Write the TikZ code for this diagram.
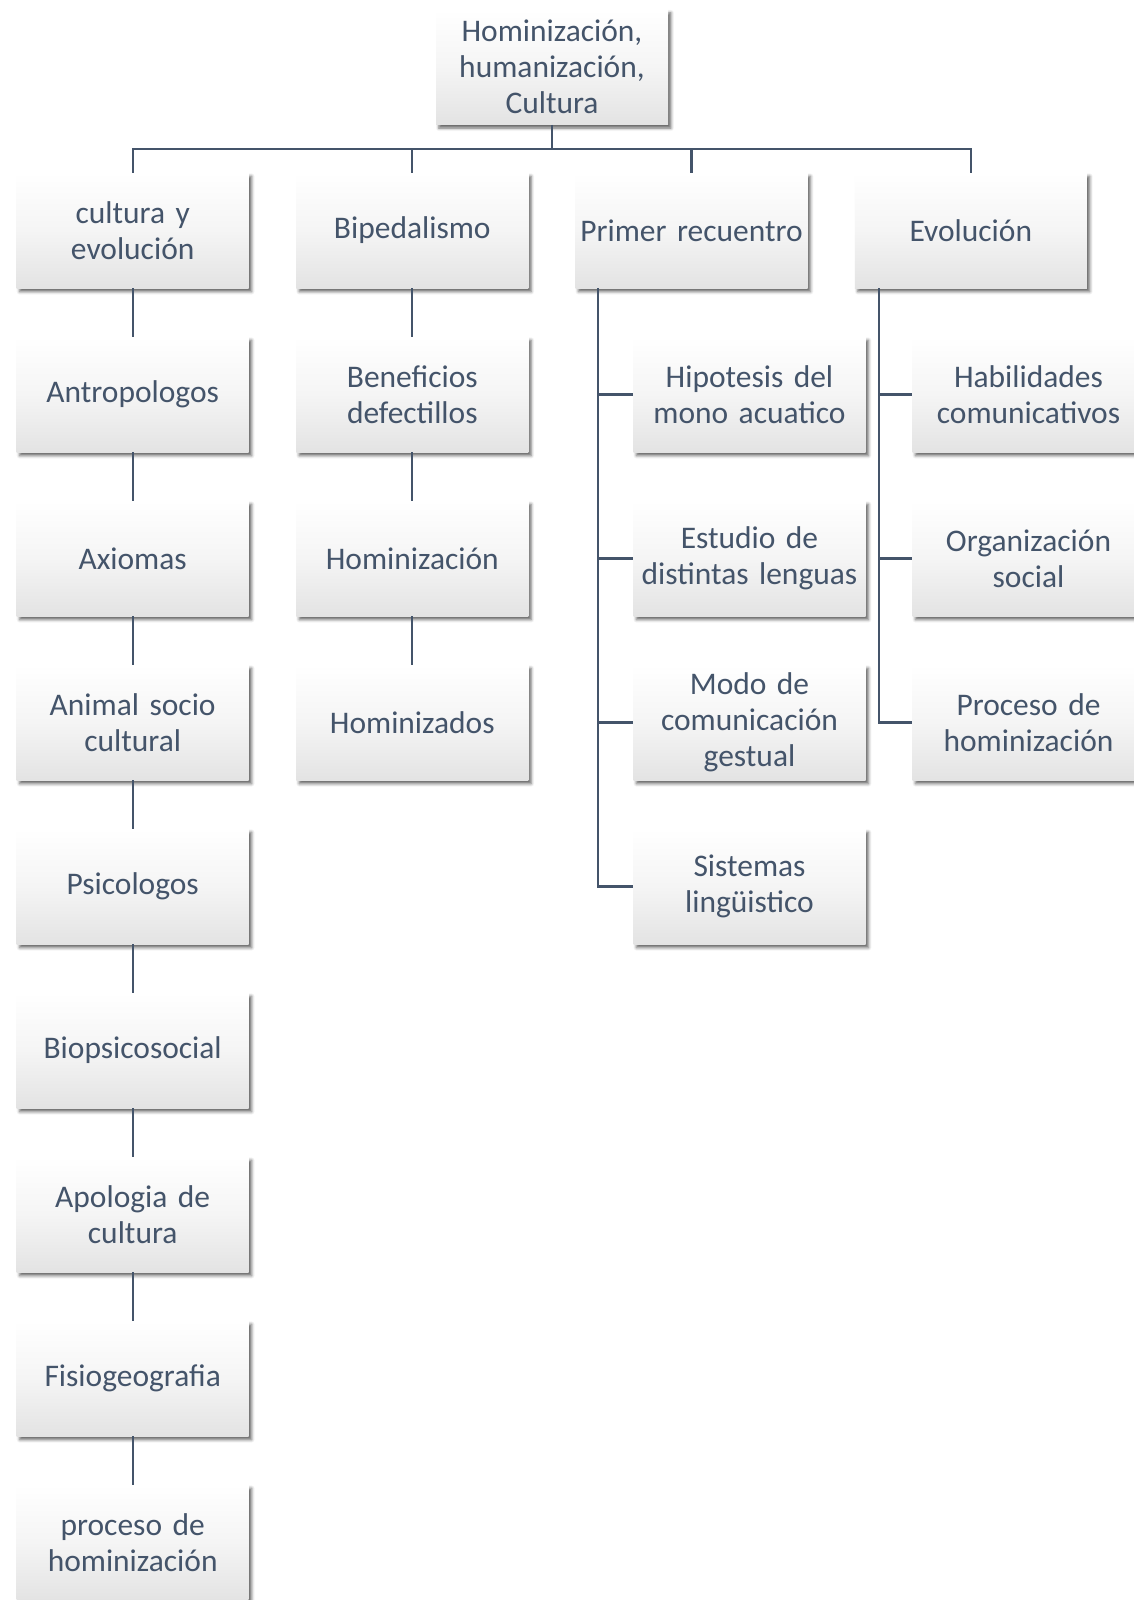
\documentclass[tikz,border=0pt]{standalone}
\usepackage{fontspec}
\setmainfont{Carlito}
\usetikzlibrary{shadows.blur}
\definecolor{slate}{HTML}{44546A}
\definecolor{boxgray}{HTML}{E3E3E3}
\tikzset{
    card/.style={rectangle, inner sep=0pt, minimum width=174pt,
        minimum height=86.5pt, text width=170pt, align=center,
        top color=white, bottom color=boxgray, middle color=white!96!black,
        text=slate, font=\fontsize{23.6}{26.8}\selectfont,
        blur shadow={shadow xshift=2.2pt, shadow yshift=-2.6pt,
            shadow blur radius=2.2pt, shadow opacity=60}},
    link/.style={draw=slate, line width=1.7pt}
}
\begin{document}
\begin{tikzpicture}[x=0.75pt, y=-0.75pt]
    \useasboundingbox (0, 0) rectangle (1134, 1600);

    % Root
    \node[card] (top) at (552, 67)
    {Hominización,\\humanización,\\Cultura};

    % First row
    \node[card] (cult) at (132.7, 230.5) {cultura y\\evolución};
    \node[card] (biped) at (412.3, 230.5) {Bipedalismo};
    \node[card] (primer) at (691.5, 230.5) {Primer recuentro};
    \node[card] (evol) at (970.8, 230.5) {Evolución};

    \coordinate (bus) at (552, 149);
    \draw[link] (top.south) -- (bus);
    \foreach \n in {cult, biped, primer, evol} {
        \draw[link] (bus) -| (\n.north);
    }

    % Left column
    \foreach \t [count=\i] in {Antropologos, Axiomas,
        {Animal socio\\cultural}, Psicologos, Biopsicosocial,
        {Apologia de\\cultura}, Fisiogeografia,
        {proceso de\\hominización}} {
        \node[card] (a\i) at (132.7, 230.5 + 164*\i) {\t};
    }
    \draw[link] (cult.south) -- (a1.north);
    \foreach \i [evaluate=\i as \j using int(\i+1)] in {1, ..., 7} {
        \draw[link] (a\i.south) -- (a\j.north);
    }

    % Second column
    \foreach \t [count=\i] in {{Beneficios\\defectillos},
        Hominización, Hominizados} {
        \node[card] (b\i) at (412.3, 230.5 + 164*\i) {\t};
    }
    \draw[link] (biped.south) -- (b1.north);
    \draw[link] (b1.south) -- (b2.north);
    \draw[link] (b2.south) -- (b3.north);

    % Third column
    \foreach \t [count=\i] in {{Hipotesis del\\mono acuatico},
        {Estudio de\\distintas lenguas},
        {Modo de\\comunicación\\gestual},
        {Sistemas\\lingüistico}} {
        \node[card] (p\i) at (749.5, 230.5 + 164*\i) {\t};
    }
    \coordinate (ptrunk) at ([xshift=17.3pt]primer.south west);
    \draw[link] (ptrunk) |- (p4.west);
    \foreach \i in {1, 2, 3} {
        \draw[link] (ptrunk) |- (p\i.west);
    }

    % Fourth column
    \foreach \t [count=\i] in {{Habilidades\\comunicativos},
        {Organización\\social},
        {Proceso de\\hominización}} {
        \node[card] (e\i) at (1028.5, 230.5 + 164*\i) {\t};
    }
    \coordinate (etrunk) at ([xshift=18.5pt]evol.south west);
    \foreach \i in {1, 2, 3} {
        \draw[link] (etrunk) |- (e\i.west);
    }
\end{tikzpicture}
\end{document}
